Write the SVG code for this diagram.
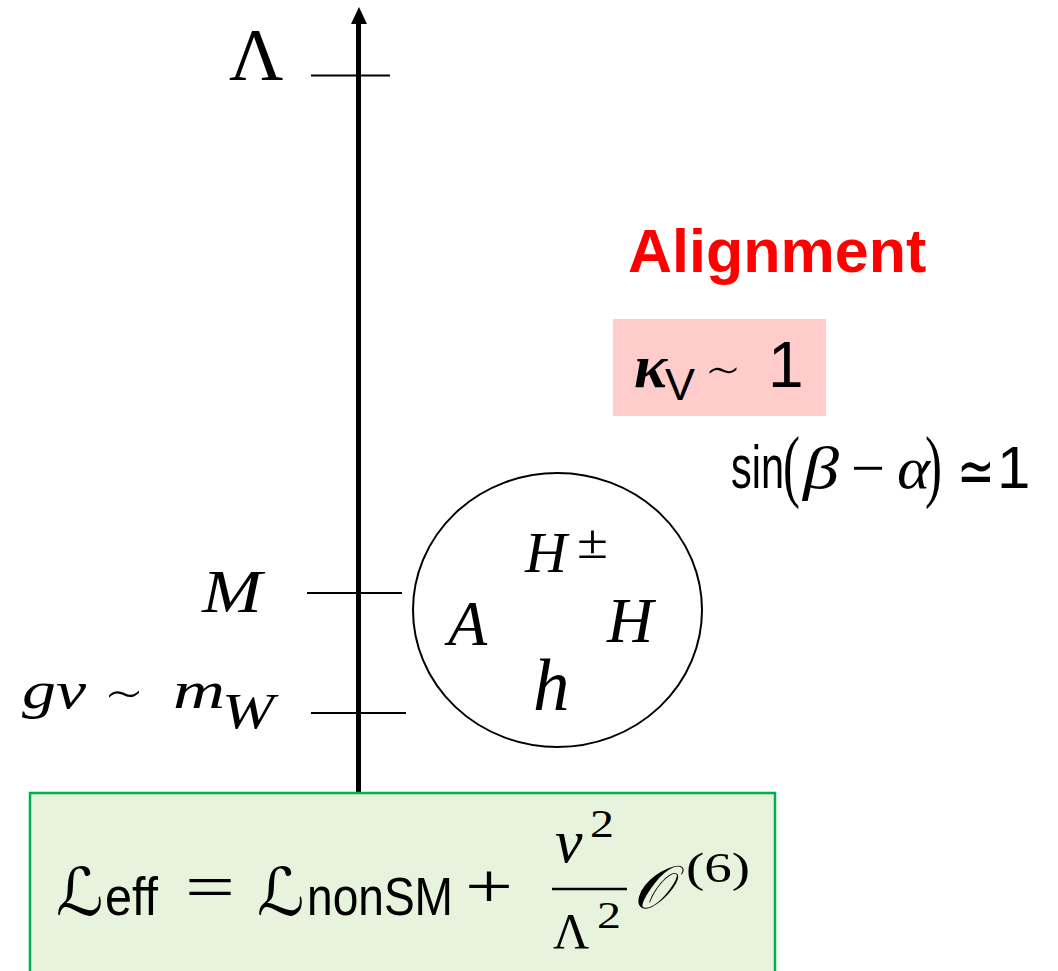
<svg xmlns="http://www.w3.org/2000/svg" width="1058" height="971" viewBox="0 0 1058 971">
<style>
.m{font-family:"Liberation Serif","DejaVu Serif",serif;font-style:italic;fill:#000}
.r{font-family:"Liberation Serif","DejaVu Serif",serif;fill:#000}
.s{font-family:"Liberation Sans","DejaVu Sans",sans-serif;fill:#000}
.d{font-family:"DejaVu Sans",sans-serif;fill:#000}
.sc{font-family:"DejaVu Serif","DejaVu Sans",serif;font-style:italic;fill:#000}
.tick{stroke:#000;stroke-width:2.2}
</style>
<rect width="1058" height="971" fill="#fff"/>
<g id="connectors">
<line x1="358.5" y1="797" x2="358.5" y2="20" stroke="#000" stroke-width="5"/>
<polygon points="359,7 367,24 351,24" fill="#000"/>
<line class="tick" x1="311" y1="75.5" x2="390" y2="75.5"/>
<line class="tick" x1="307" y1="593" x2="402" y2="593"/>
<line class="tick" x1="311" y1="713" x2="406" y2="713"/>
</g>
<g id="label-lambda"><text class="r" x="229" y="80" font-size="75">Λ</text></g>
<g id="label-M"><text class="m" x="202" y="612" font-size="62" textLength="60" lengthAdjust="spacingAndGlyphs">M</text></g>
<g id="label-gv">
<text class="m" x="22" y="708" font-size="52" textLength="64" lengthAdjust="spacingAndGlyphs">gv</text>
<text class="d" x="104" y="713" font-size="54" textLength="40" lengthAdjust="spacingAndGlyphs" font-weight="200">∼</text>
<text class="m" x="173" y="708" font-size="52" textLength="52" lengthAdjust="spacingAndGlyphs">m</text>
<text class="m" x="222" y="728" font-size="50" textLength="52" lengthAdjust="spacingAndGlyphs">W</text>
</g>
<g id="circle-node">
<ellipse cx="557.5" cy="610" rx="144.5" ry="137" fill="none" stroke="#000" stroke-width="2"/>
<text class="m" x="525" y="572" font-size="58">H</text>
<text class="r" x="577" y="558" font-size="48" textLength="31" lengthAdjust="spacingAndGlyphs">±</text>
<text class="m" x="448" y="645" font-size="64">A</text>
<text class="m" x="607" y="642" font-size="64">H</text>
<text class="m" x="533" y="710" font-size="73">h</text>
</g>
<g id="alignment"><text x="628" y="272" font-family="Liberation Sans,Arial,sans-serif" font-weight="bold" font-size="61" fill="#ff0000">Alignment</text></g>
<g id="kappa-node">
<rect x="613" y="319" width="213" height="97" fill="#ffcccc"/>
<text x="634" y="387" font-family="Liberation Serif,serif" font-style="italic" font-weight="bold" font-size="62">κ</text>
<text class="s" x="665" y="400" font-size="45">V</text>
<text class="d" x="705" y="388" font-size="50" textLength="36" lengthAdjust="spacingAndGlyphs" font-weight="200">∼</text>
<text class="s" x="768" y="387" font-size="64">1</text>
</g>
<g id="sin-label">
<text class="s" x="731" y="488" font-size="62" textLength="53" lengthAdjust="spacingAndGlyphs">sin</text>
<text class="r" x="783" y="492" font-size="80" textLength="17" lengthAdjust="spacingAndGlyphs">(</text>
<text class="m" x="803" y="488" font-size="60" textLength="36" lengthAdjust="spacingAndGlyphs">β</text>
<text class="r" x="851" y="488" font-size="60" textLength="34" lengthAdjust="spacingAndGlyphs">−</text>
<text class="m" x="897" y="488" font-size="60" textLength="33" lengthAdjust="spacingAndGlyphs">α</text>
<text class="r" x="925" y="492" font-size="80" textLength="17" lengthAdjust="spacingAndGlyphs">)</text>
<text class="d" x="957" y="493" font-size="64" textLength="38" lengthAdjust="spacingAndGlyphs" font-weight="200">≃</text>
<text class="s" x="997" y="488" font-size="60">1</text>
</g>
<g id="lagrangian-box">
<rect x="30" y="793" width="745" height="200" fill="#e7f3dc" stroke="#00b050" stroke-width="2.5"/>
<text class="sc" x="56" y="915" font-size="66">ℒ</text>
<text class="s" x="105" y="915" font-size="54" textLength="53" lengthAdjust="spacingAndGlyphs">eff</text>
<text class="r" x="185" y="908" font-size="64" textLength="50" lengthAdjust="spacingAndGlyphs">=</text>
<text class="sc" x="257" y="915" font-size="66">ℒ</text>
<text class="s" x="307" y="915" font-size="54" textLength="146" lengthAdjust="spacingAndGlyphs">nonSM</text>
<text class="r" x="465" y="908" font-size="64" textLength="48" lengthAdjust="spacingAndGlyphs">+</text>
<text class="m" x="555" y="862" font-size="62">v</text>
<text class="r" x="590" y="837" font-size="40" textLength="24" lengthAdjust="spacingAndGlyphs">2</text>
<line x1="552" y1="889" x2="627" y2="889" stroke="#000" stroke-width="2.5"/>
<text class="r" x="553" y="948" font-size="50">Λ</text>
<text class="r" x="597" y="928" font-size="37" textLength="24" lengthAdjust="spacingAndGlyphs">2</text>
<text class="sc" x="633" y="908" font-size="60">𝒪</text>
<text class="r" x="686" y="882" font-size="42" textLength="64" lengthAdjust="spacingAndGlyphs">(6)</text>
</g>
</svg>
